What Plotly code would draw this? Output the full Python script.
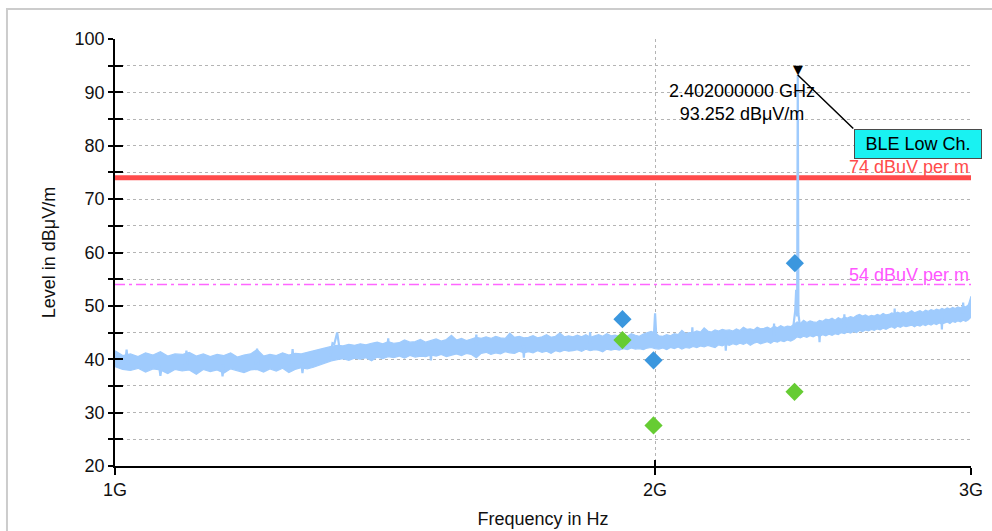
import math
import plotly.graph_objects as go

# ---------------- data ----------------
# sweep grid (MHz) and upper / lower edge of the measured noise band (dBuV/m)
sweep_mhz = list(range(1000, 3001, 10))
band_hi = [
    41.6, 40.7, 41.0, 40.5, 41.2, 40.8, 41.4, 40.6, 41.0, 40.9,
    41.3, 40.6, 41.0, 40.5, 40.9, 40.7, 41.2, 40.4, 40.8, 41.0,
    41.8, 40.6, 40.9, 40.7, 41.2, 40.8, 41.1, 41.0, 41.3, 41.6,
    41.9, 42.1, 42.4, 42.6, 42.5, 42.8, 42.6, 42.9, 42.7, 43.0,
    43.2, 42.9, 43.3, 43.0, 43.1, 43.6, 43.2, 43.3, 43.7, 43.2,
    43.5, 43.8, 43.4, 43.7, 44.5, 43.6, 43.9, 43.5, 43.8, 44.1,
    43.9, 44.2, 43.9, 44.3, 44.0, 43.9, 44.9, 44.1, 44.3, 44.0,
    44.1, 44.4, 44.0, 44.2, 44.6, 44.1, 44.3, 44.9, 44.2, 44.4,
    44.2, 44.5, 44.2, 44.6, 44.1, 44.4, 44.6, 44.3, 44.8, 44.4,
    44.5, 44.3, 44.6, 44.3, 44.8, 44.5, 44.3, 44.7, 44.9, 45.2,
    44.9, 44.4, 44.3, 44.6, 44.4, 44.8, 44.6, 45.4, 44.8, 45.0,
    45.0, 45.3, 45.1, 45.9, 45.3, 45.1, 45.5, 45.3, 45.6, 45.4,
    45.5, 45.3, 45.7, 45.4, 46.0, 45.6, 45.7, 45.5, 46.0, 45.7,
    45.8, 46.0, 45.7, 46.2, 45.9, 46.3, 46.0, 46.2, 46.1, 46.5,
    47.0, 46.7, 47.3, 46.9, 47.2, 47.0, 46.9, 47.3, 47.1, 47.5,
    47.4, 47.7, 47.3, 47.8, 47.5, 47.9, 47.7, 48.0, 47.8, 48.2,
    48.4, 48.1, 48.3, 48.0, 48.2, 48.1, 48.4, 48.2, 48.6, 48.3,
    48.4, 48.7, 48.5, 48.8, 48.6, 48.9, 48.6, 48.8, 49.1, 48.7,
    48.9, 49.1, 48.8, 49.2, 49.0, 49.3, 49.1, 49.4, 49.2, 49.5,
    49.3, 49.6, 49.4, 49.7, 49.5, 49.8, 49.6, 50.0, 49.8, 50.2,
    51.8,
]
band_lo = [
    38.6, 38.1, 37.9, 38.3, 37.6, 38.2, 38.0, 37.3, 38.1, 37.8,
    38.0, 37.2, 38.1, 37.7, 38.0, 37.4, 38.2, 37.9, 37.5, 38.0,
    38.1, 37.6, 38.2, 37.8, 38.3, 37.5, 38.1, 38.4, 38.2, 38.5,
    38.9, 39.3, 39.7, 39.9, 40.1, 39.8, 40.2, 40.0, 40.3, 39.7,
    40.4, 40.1, 40.5, 40.3, 40.6, 40.2, 40.7, 40.4, 40.6, 40.5,
    40.8, 40.6, 40.9, 40.5, 40.8, 41.0, 40.7, 41.1, 40.9, 40.3,
    41.1, 41.3, 40.9, 41.2, 41.0, 41.4, 41.2, 41.1, 41.5, 41.2,
    41.4, 41.2, 41.6, 41.3, 41.5, 41.1, 41.6, 41.4, 41.7, 41.5,
    41.6, 41.8, 41.5, 41.9, 41.6, 41.8, 41.7, 41.4, 41.9, 41.7,
    41.9, 41.7, 42.0, 41.8, 42.1, 41.9, 42.0, 41.8, 42.1, 42.2,
    42.0, 41.9, 42.1, 41.8, 42.2, 42.0, 42.3, 41.9, 42.2, 42.1,
    42.4, 42.2, 42.5, 42.3, 42.6, 42.4, 42.2, 42.7, 42.5, 42.8,
    42.6, 42.9, 42.7, 43.0, 42.8, 43.1, 42.6, 43.0, 43.2, 42.9,
    43.1, 43.3, 43.0, 43.4, 43.2, 43.5, 43.3, 43.6, 43.4, 43.7,
    44.2, 44.0, 44.3, 44.1, 44.4, 44.2, 44.5, 44.3, 44.6, 44.4,
    44.7, 44.5, 44.8, 44.6, 45.0, 44.8, 45.1, 44.9, 45.2, 45.0,
    45.4, 45.2, 45.5, 45.3, 45.6, 45.4, 45.7, 45.5, 45.8, 45.6,
    45.9, 46.1, 45.8, 46.2, 46.0, 46.3, 46.1, 46.2, 46.4, 46.1,
    46.4, 46.2, 46.5, 46.3, 46.6, 46.4, 46.7, 46.5, 46.8, 46.6,
    46.8, 47.0, 46.7, 47.1, 46.9, 47.2, 47.0, 47.3, 47.1, 47.4,
    47.9,
]
# narrow spurs / dips on the band, incl. the carrier at 2.402 GHz (None = gap)
spur_mhz = [1013, 1015, 1017, None, 1058, 1060, 1062, None, 1094, 1096, 1098, None,
            1146, 1148, 1150, None, 1198, 1200, 1202, None, 1254, 1256, 1258, None,
            1270, 1272, 1274, None,
            1318, 1322, 1325, 1330, 1334, None, 1418, 1420, 1422, None,
            1498, 1500, 1502, None, 1588, 1590, 1592, None, 1688, 1690, 1692, None,
            1838, 1840, 1842, None, 1997, 2000, 2003, None, 2096, 2098, 2100, None,
            2188, 2190, 2192, None, 2328, 2330, 2332, None,
            2388, 2394, 2397, 2400, 2402, 2404, 2408, None,
            2468, 2470, 2472, None, 2548, 2550, 2552, None, 2718, 2720, 2722, None,
            2888, 2890, 2892, None, 2968, 2970, 2972]
spur_level = [39.0, 41.8, 39.0, None, 39.0, 36.9, 39.0, None, 39.0, 41.6, 39.0, None,
              39.0, 36.8, 39.0, None, 39.0, 42.0, 39.0, None, 39.2, 41.9, 39.2, None,
              39.4, 37.4, 39.4, None,
              40.5, 43.0, 42.8, 45.0, 42.0, None, 41.5, 43.9, 41.5, None,
              42.0, 39.8, 42.0, None, 42.5, 44.6, 42.5, None, 42.6, 40.3, 42.6, None,
              43.0, 45.1, 43.0, None, 44.5, 48.6, 44.5, None, 43.5, 46.0, 43.5, None,
              44.0, 41.6, 44.0, None, 44.5, 46.7, 44.5, None,
              46.0, 49.0, 53.0, 48.0, 93.252, 48.5, 46.5, None,
              45.5, 43.2, 45.5, None, 46.0, 48.4, 46.0, None, 47.0, 49.5, 47.0, None,
              48.0, 45.6, 48.0, None, 48.5, 50.6, 48.5]

# final measurement points (GHz)
peak_pts_ghz = [1.918, 1.996, 2.393]
peak_pts_level = [47.5, 39.8, 58.0]
avg_pts_ghz = [1.918, 1.996, 2.392]
avg_pts_level = [43.6, 27.6, 33.9]

# limit lines
limit_freq_ghz = [1.0, 3.0]
limit_pk = 74
limit_av = 54
limit_pk_label = "74 dBuV per m"
limit_av_label = "54 dBuV per m"

marker_freq_ghz = 2.402
marker_level = 93.252
marker_text = "2.402000000 GHz<br>93.252 dBμV/m"
marker_box = "BLE Low Ch."

x_tickvals_ghz = [1, 2, 3]
x_ticktext = ["1G", "2G", "3G"]
y_tickvals = list(range(20, 101, 5))
y_ticktext = [str(v) if v % 10 == 0 else "" for v in y_tickvals]

# ---------------- build ----------------
FONT = "Liberation Sans, Arial, sans-serif"
BAND = "#9fcbfd"
xr = [math.log10(1e9), math.log10(3e9)]
yr = [20, 100]
fx = [f * 1e6 for f in sweep_mhz]

fig = go.Figure()
fig.add_trace(go.Scatter(x=[f * 1e9 for f in limit_freq_ghz], y=[limit_pk] * 2, mode="lines",
                         line=dict(color="#ff4b4b", width=5), hoverinfo="skip"))
fig.add_trace(go.Scatter(x=[f * 1e9 for f in limit_freq_ghz], y=[limit_av] * 2, mode="lines",
                         line=dict(color="#ff66ff", width=1.3, dash="10px,4px,3px,4px"), hoverinfo="skip"))
fig.add_trace(go.Scatter(x=fx, y=band_lo, mode="lines", line=dict(color=BAND, width=1.2),
                         hoverinfo="skip"))
fig.add_trace(go.Scatter(x=fx, y=band_hi, mode="lines", line=dict(color=BAND, width=1.2),
                         fill="tonexty", fillcolor=BAND, hoverinfo="skip"))
fig.add_trace(go.Scatter(x=[f * 1e6 if f is not None else None for f in spur_mhz], y=spur_level,
                         mode="lines", line=dict(color=BAND, width=2.2), connectgaps=False,
                         hoverinfo="skip"))
fig.add_trace(go.Scatter(x=[f * 1e9 for f in peak_pts_ghz], y=peak_pts_level, mode="markers",
                         marker=dict(symbol="diamond", size=14, color="#3b97de"), hoverinfo="skip"))
fig.add_trace(go.Scatter(x=[f * 1e9 for f in avg_pts_ghz], y=avg_pts_level, mode="markers",
                         marker=dict(symbol="diamond", size=14, color="#66cc33"), hoverinfo="skip"))
# overlay axes for the inner half of the tick marks
fig.add_trace(go.Scatter(x=[], y=[], xaxis="x2", yaxis="y2", hoverinfo="skip"))

mx = math.log10(marker_freq_ghz * 1e9)
annotations = [
    dict(x=mx, y=marker_level, xref="x", yref="y", text="", showarrow=True, arrowhead=0,
         arrowwidth=1.5, arrowcolor="#000", ax=57, ay=55),
    dict(x=mx, y=marker_level, xref="x", yref="y", text="▼", showarrow=False,
         yanchor="bottom", yshift=-4, font=dict(family="DejaVu Sans", size=13, color="#000")),
    dict(x=0.7325, y=0.852, xref="paper", yref="paper", text=marker_text, showarrow=False,
         xanchor="center", yanchor="middle", font=dict(family=FONT, size=18, color="#000")),
    dict(x=0.8633, y=0.789, xref="paper", yref="paper", text=marker_box, showarrow=False,
         xanchor="left", yanchor="top", bgcolor="#19f2f2", bordercolor="#4a4a4a", borderwidth=1,
         borderpad=2, width=122, height=24, align="center",
         font=dict(family=FONT, size=18, color="#000")),
    dict(x=1.0, y=limit_pk, xref="paper", yref="y", text=limit_pk_label, showarrow=False,
         xanchor="right", yanchor="bottom", yshift=-1, font=dict(family=FONT, size=18, color="#ff4b4b")),
    dict(x=1.0, y=limit_av, xref="paper", yref="y", text=limit_av_label, showarrow=False,
         xanchor="right", yanchor="bottom", yshift=-2, font=dict(family=FONT, size=18, color="#ff55ff")),
]

fig.update_layout(
    width=992, height=531,
    margin=dict(l=115, r=21, t=39, b=65, autoexpand=False),
    paper_bgcolor="white", plot_bgcolor="white",
    showlegend=False, hovermode=False,
    font=dict(family=FONT, size=18, color="#111"),
    xaxis=dict(type="log", range=xr, tickvals=[v * 1e9 for v in x_tickvals_ghz], ticktext=x_ticktext,
               ticks="outside", ticklen=7, tickwidth=1.5, tickcolor="#000",
               showline=True, linecolor="#000", linewidth=1.5, mirror=False,
               showgrid=True, gridcolor="#b4b4b4", griddash="3px,3px", gridwidth=1,
               zeroline=False, tickfont=dict(size=18, color="#111"),
               title=dict(text="Frequency in Hz", standoff=13, font=dict(size=18, color="#111"))),
    yaxis=dict(range=yr, tickvals=y_tickvals, ticktext=y_ticktext,
               ticks="outside", ticklen=5, tickwidth=1.5, tickcolor="#000",
               showline=True, linecolor="#000", linewidth=1.5, mirror=False,
               showgrid=True, gridcolor="#b4b4b4", griddash="3px,3px", gridwidth=1,
               zeroline=False, tickfont=dict(size=18, color="#111"),
               title=dict(text="Level in dBμV/m", standoff=14, font=dict(size=18, color="#111"))),
    xaxis2=dict(type="log", range=xr, overlaying="x", anchor="y", tickvals=[v * 1e9 for v in x_tickvals_ghz],
                ticks="inside", ticklen=6, tickwidth=1.5, tickcolor="#000", showticklabels=False,
                showgrid=False, showline=False, zeroline=False),
    yaxis2=dict(range=yr, overlaying="y", anchor="x", side="left", tickvals=y_tickvals,
                ticks="inside", ticklen=8, tickwidth=1.5, tickcolor="#000", showticklabels=False,
                showgrid=False, showline=False, zeroline=False),
    annotations=annotations,
    shapes=[dict(type="rect", xref="paper", yref="paper", x0=-0.1262, x1=1.05, y0=-0.2, y1=1.0703,
                 line=dict(color="#cccccc", width=2), fillcolor="rgba(0,0,0,0)", layer="below")],
)

fig.write_html("out.html", config={"displayModeBar": False})
